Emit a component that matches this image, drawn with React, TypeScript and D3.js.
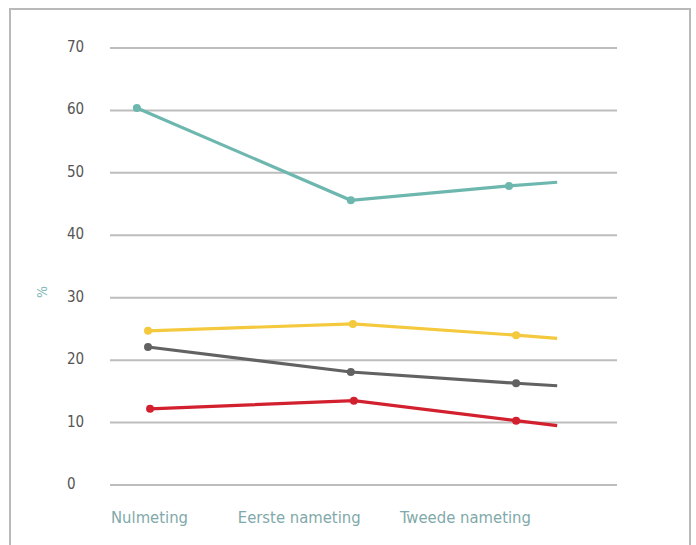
import React, { useEffect, useRef } from "react";
import * as d3 from "d3";

const categories = ["Nulmeting", "Eerste nameting", "Tweede nameting"];
const categoryPos = [0.2, 25.2, 57.2];
const yTicks = [0, 10, 20, 30, 40, 50, 60, 70];

const tealX = [5.3, 47.5, 78.7, 88.2];
const tealY = [60.4, 45.6, 47.9, 48.5];
const yellowX = [7.5, 47.9, 80.1, 88.2];
const yellowY = [24.7, 25.8, 24.0, 23.5];
const grayX = [7.5, 47.5, 80.1, 88.2];
const grayY = [22.1, 18.1, 16.3, 15.9];
const redX = [7.9, 48.1, 80.1, 88.2];
const redY = [12.2, 13.5, 10.3, 9.5];

const series = [
  { name: "teal", xs: tealX, ys: tealY, color: "#6db7af" },
  { name: "yellow", xs: yellowX, ys: yellowY, color: "#f4c93e" },
  { name: "gray", xs: grayX, ys: grayY, color: "#626262" },
  { name: "red", xs: redX, ys: redY, color: "#d2202f" },
];

export default function App() {
  const ref = useRef<SVGSVGElement>(null);
  useEffect(() => {
    const svg = d3.select(ref.current);
    svg.selectAll("*").remove();
    const W = 696, H = 545;
    const x = d3.scaleLinear().domain([0, 100]).range([110, 617]);
    const y = d3.scaleLinear().domain([0, 70]).range([485, 48]);
    const font = "'DejaVu Sans Condensed', 'Liberation Sans Narrow', Roboto, sans-serif";

    svg.append("rect").attr("x", 10).attr("y", 9).attr("width", 680).attr("height", H + 20)
      .attr("fill", "none").attr("stroke", "#b9b9b9").attr("stroke-width", 2);

    svg.append("g").selectAll("line").data(yTicks).join("line")
      .attr("x1", x(0)).attr("x2", x(100))
      .attr("y1", d => y(d)).attr("y2", d => y(d))
      .attr("stroke", "#bdbdbd").attr("stroke-width", 2);

    svg.append("g").selectAll("text").data(yTicks).join("text")
      .attr("x", 67).attr("y", d => y(d) + 4)
      .attr("font-family", font).attr("font-size", 15).attr("font-weight", 300)
      .attr("fill", "#555").text(d => String(d));

    svg.append("text").attr("transform", `translate(47,292) rotate(-90)`)
      .attr("text-anchor", "middle").attr("font-family", font).attr("font-size", 14)
      .attr("fill", "#7fb6b4").text("%");

    svg.append("g").selectAll("text").data(categories).join("text")
      .attr("x", (d, i) => x(categoryPos[i])).attr("y", 523)
      .attr("font-family", font).attr("font-size", 16.5)
      .attr("fill", "#7fa9aa").text(d => d);

    const line = d3.line<[number, number]>().x(d => x(d[0])).y(d => y(d[1]));
    series.forEach(s => {
      const pts: [number, number][] = s.xs.map((v, i) => [v, s.ys[i]]);
      svg.append("path").attr("d", line(pts)!).attr("fill", "none")
        .attr("stroke", s.color).attr("stroke-width", 3.2);
      svg.append("g").selectAll("circle").data(pts.slice(0, 3)).join("circle")
        .attr("cx", d => x(d[0])).attr("cy", d => y(d[1])).attr("r", 4)
        .attr("fill", s.color);
    });
  }, []);
  return (
    <svg ref={ref} width={696} height={545}
      style={{ position: "absolute", left: 0, top: 0, background: "#fff" }} />
  );
}
